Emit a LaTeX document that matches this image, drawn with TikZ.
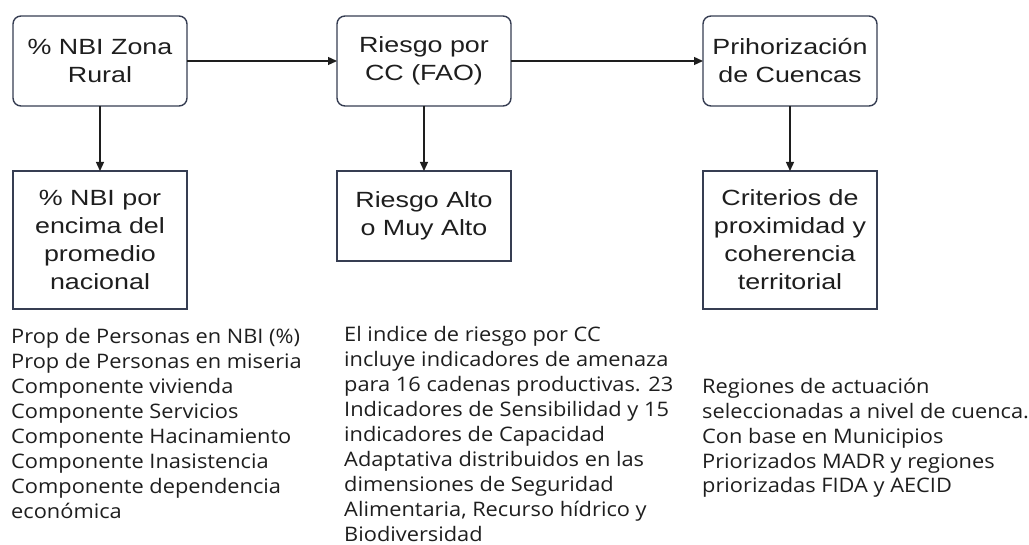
\documentclass[tikz,border=0pt]{standalone}
\usepackage{fontspec}
\usepackage{xcolor}
\usetikzlibrary{arrows.meta,positioning}
\newfontfamily\cajafont[FakeStretch=1.22]{Liberation Sans}
\newfontfamily\notafont[FakeStretch=1.09]{Open Sans}
\newcommand{\FC}{\cajafont\fontsize{22}{28}\selectfont}
\newcommand{\FN}{\notafont\fontsize{20}{25}\selectfont}
\definecolor{borde}{HTML}{363D52}
\definecolor{tinta}{HTML}{1E1E1E}

\begin{document}
\begin{tikzpicture}[x=1pt,y=-1pt]
\tikzstyle{caja}=[draw=borde,line width=1.4pt,text=tinta,font=\FC,align=center,minimum width=174pt,inner sep=0pt,outer sep=0pt]
\tikzstyle{paso}=[caja,rounded corners=8pt,minimum height=90pt]
\tikzstyle{nota}=[text=tinta,font=\FN,align=left,inner sep=0pt,anchor=base west]
\tikzstyle{flecha}=[tinta,line width=1.3pt,-{Triangle[length=9pt,width=8pt]}]

\useasboundingbox (0,0) rectangle (1029,545);

\node[paso] (nbi) at (100,61) {\% NBI Zona\\Rural};
\node[paso,right=150pt of nbi] (riesgo) {Riesgo por\\CC (FAO)};
\node[paso,right=192pt of riesgo] (cuencas) {Prihorización\\de Cuencas};

\node[caja,minimum height=138pt,below=65pt of nbi] (promedio) {\% NBI por\\encima del\\promedio\\nacional};
\node[caja,minimum height=90pt,below=65pt of riesgo] (alto) {Riesgo Alto\\o Muy Alto};
\node[caja,minimum height=138pt,below=65pt of cuencas] (criterios) {Criterios de\\proximidad y\\coherencia\\territorial};

\draw[flecha] (nbi) -- (riesgo);
\draw[flecha] (riesgo) -- (cuencas);
\draw[flecha] (nbi) -- (promedio);
\draw[flecha] (riesgo) -- (alto);
\draw[flecha] (cuencas) -- (criterios);

% base = last line of each note
\node[nota] (componentes) at (11,518) {Prop de Personas en NBI (\%)\\Prop de Personas en miseria\\Componente vivienda\\Componente Servicios\\Componente Hacinamiento\\Componente Inasistencia\\Componente dependencia\\económica};
\node[nota] (indice) at (344,541) {El indice de riesgo por CC\\incluye indicadores de amenaza\\para 16 cadenas productivas. 23\\Indicadores de Sensibilidad y 15\\indicadores de Capacidad\\Adaptativa distribuidos en las\\dimensiones de Seguridad\\Alimentaria, Recurso hídrico y\\Biodiversidad};
\node[nota] (regiones) at (702,493) {Regiones de actuación\\seleccionadas a nivel de cuenca.\\Con base en Municipios\\Priorizados MADR y regiones\\priorizadas FIDA y AECID};
\end{tikzpicture}
\end{document}
